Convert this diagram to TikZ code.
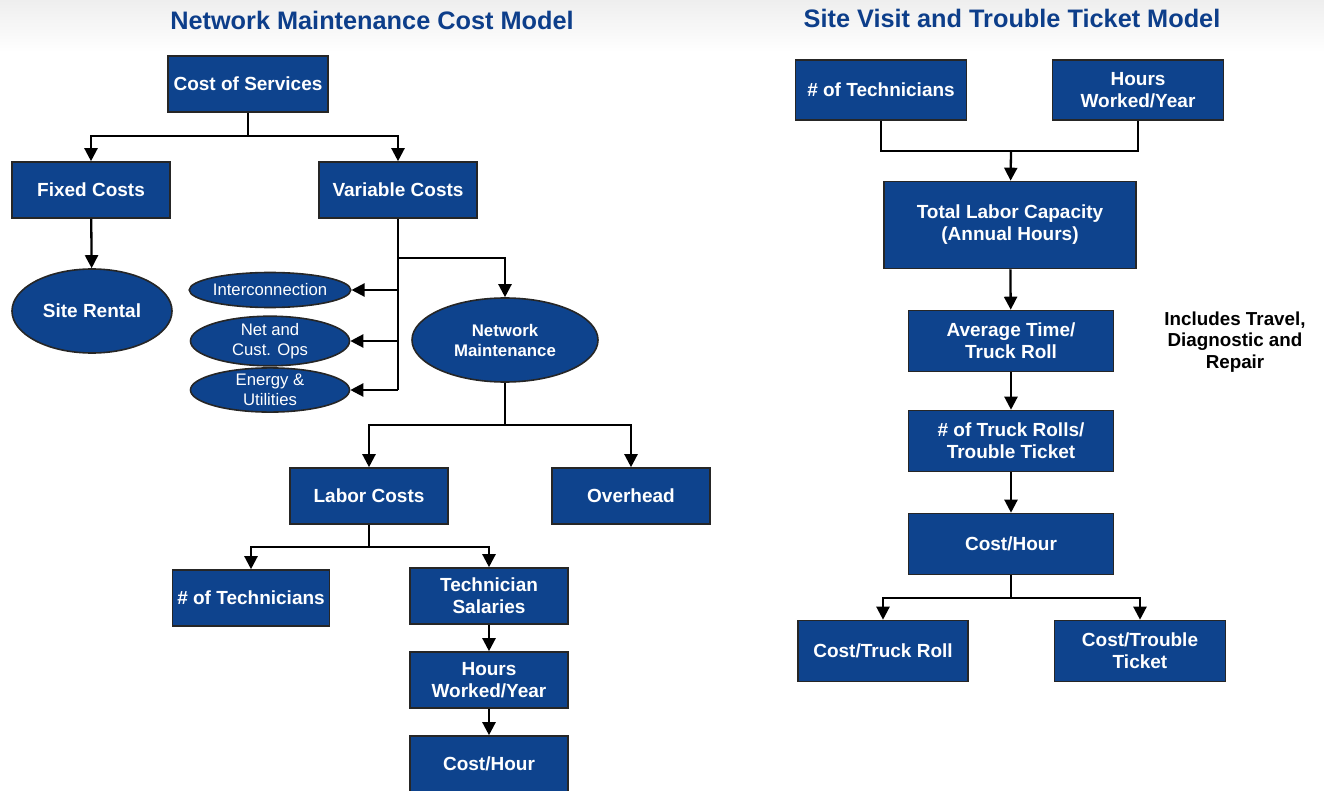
\documentclass[tikz,border=0pt]{standalone}
\usepackage{fontspec}
\setmainfont{Liberation Sans}
\usetikzlibrary{arrows.meta,shapes.geometric}
\definecolor{boxblue}{RGB}{14,67,141}
\definecolor{titleblue}{RGB}{13,62,138}
\definecolor{topgray}{RGB}{238,238,238}
\tikzset{
  box/.style={rectangle, draw=black!85, line width=1.6pt, fill=boxblue, text=white,
    font=\bfseries\fontsize{19}{22}\selectfont, align=center, inner sep=0pt},
  oval/.style={ellipse, draw=black!85, line width=1.6pt, fill=boxblue, text=white,
    align=center, inner sep=0pt},
  smalloval/.style={oval, minimum width=159pt, minimum height=35pt,
    font=\fontsize{16.7}{19.5}\selectfont},
  heading/.style={text=titleblue, font=\bfseries\fontsize{25.3}{28}\selectfont, inner sep=0pt},
  link/.style={line width=2.3pt, draw=black},
  arr/.style={link, -{Triangle[width=13pt,length=13pt]}},
}
\begin{document}
\begin{tikzpicture}[x=1pt, y=-1pt]
\useasboundingbox (0,0) rectangle (1324,791);
% soft grey band along the top edge
\shade[top color=topgray, bottom color=white] (0,0) rectangle (1324,52);

% ---------------- Network Maintenance Cost Model ----------------
\node[heading] (t1) at (372,20) {Network Maintenance Cost Model};

\node[box, minimum width=160pt, minimum height=56pt] (cos) at (248,84) {Cost of Services};
\node[box, minimum width=158pt, minimum height=56pt] (fixed) at (91,190) {Fixed Costs};
\node[box, minimum width=158pt, minimum height=56pt] (var) at (398,190) {Variable Costs};
\node[oval, minimum width=160pt, minimum height=84pt, font=\bfseries\fontsize{19}{22}\selectfont]
  (site) at (92,311) {Site Rental};
\node[smalloval] (inter) at (270,290) {Interconnection};
\node[smalloval] (netops) at (270,341) {Net and\\Cust. Ops};
\node[smalloval] (energy) at (270,390) {Energy \&\\Utilities};
\node[oval, minimum width=186pt, minimum height=84pt, font=\bfseries\fontsize{16.8}{20}\selectfont]
  (nm) at (505,340) {Network\\Maintenance};
\node[box, minimum width=158pt, minimum height=56pt] (labor) at (369,496) {Labor Costs};
\node[box, minimum width=158pt, minimum height=56pt] (over) at (631,496) {Overhead};
\node[box, minimum width=157pt, minimum height=56pt] (ntech) at (251,598) {\# of Technicians};
\node[box, minimum width=158pt, minimum height=56pt] (sal) at (489,596) {Technician\\Salaries};
\node[box, minimum width=158pt, minimum height=56pt] (hrs) at (489,680) {Hours\\Worked/Year};
\node[box, minimum width=158pt, minimum height=56pt] (chour) at (489,764) {Cost/Hour};

% junction points of the tree
\coordinate (j1) at (248,136);
\coordinate (vj) at (398,258);
\coordinate (vb) at (398,390);
\coordinate (j2) at (505,425);
\coordinate (j3) at (369,547);

\draw[link] (cos) -- (j1);
\draw[arr] (j1) -| (fixed);
\draw[arr] (j1) -| (var);
\draw[arr] (fixed) -- (site);
\draw[link] (var.south) -- (vb);
\draw[arr] (vj) -| (nm);
\draw[arr] (var.south |- inter) -- (inter.east);
\draw[arr] (var.south |- netops) -- (netops.east);
\draw[arr] (vb) -- (energy.east);
\draw[link] (nm) -- (j2);
\draw[arr] (j2) -| (labor);
\draw[arr] (j2) -| (over);
\draw[link] (labor) -- (j3);
\draw[arr] (j3) -| (ntech);
\draw[arr] (j3) -| (sal);
\draw[arr] (sal) -- (hrs);
\draw[arr] (hrs) -- (chour);

% ---------------- Site Visit and Trouble Ticket Model ----------------
\node[heading] (t2) at (1012,18) {Site Visit and Trouble Ticket Model};

\node[box, minimum width=171pt, minimum height=60pt] (rtech) at (881,90) {\# of Technicians};
\node[box, minimum width=171pt, minimum height=60pt] (rhrs) at (1138,90) {Hours\\Worked/Year};
\node[box, minimum width=252pt, minimum height=87pt] (cap) at (1010,225) {Total Labor Capacity\\(Annual Hours)};
\node[box, minimum width=205pt, minimum height=61pt] (avg) at (1011,341) {Average Time/\\Truck Roll};
\node[box, minimum width=205pt, minimum height=61pt] (rolls) at (1011,441) {\# of Truck Rolls/\\Trouble Ticket};
\node[box, minimum width=205pt, minimum height=61pt] (rchour) at (1011,544) {Cost/Hour};
\node[box, minimum width=170pt, minimum height=61pt] (ctruck) at (883,651) {Cost/Truck Roll};
\node[box, minimum width=171pt, minimum height=61pt] (cticket) at (1140,651) {Cost/Trouble\\Ticket};
\node[font=\bfseries\fontsize{18.8}{21.5}\selectfont, align=center, inner sep=0pt]
  (note) at (1235,342) {Includes Travel,\\Diagnostic and\\Repair};

\coordinate (r1) at (1011,151);
\coordinate (r2) at (1011,598);

\draw[link] (rtech.south) |- (r1) -| (rhrs.south);
\draw[arr] (r1) -- (cap);
\draw[arr] (cap) -- (avg);
\draw[arr] (avg) -- (rolls);
\draw[arr] (rolls) -- (rchour);
\draw[link] (rchour) -- (r2);
\draw[arr] (r2) -| (ctruck);
\draw[arr] (r2) -| (cticket);
\end{tikzpicture}
\end{document}
